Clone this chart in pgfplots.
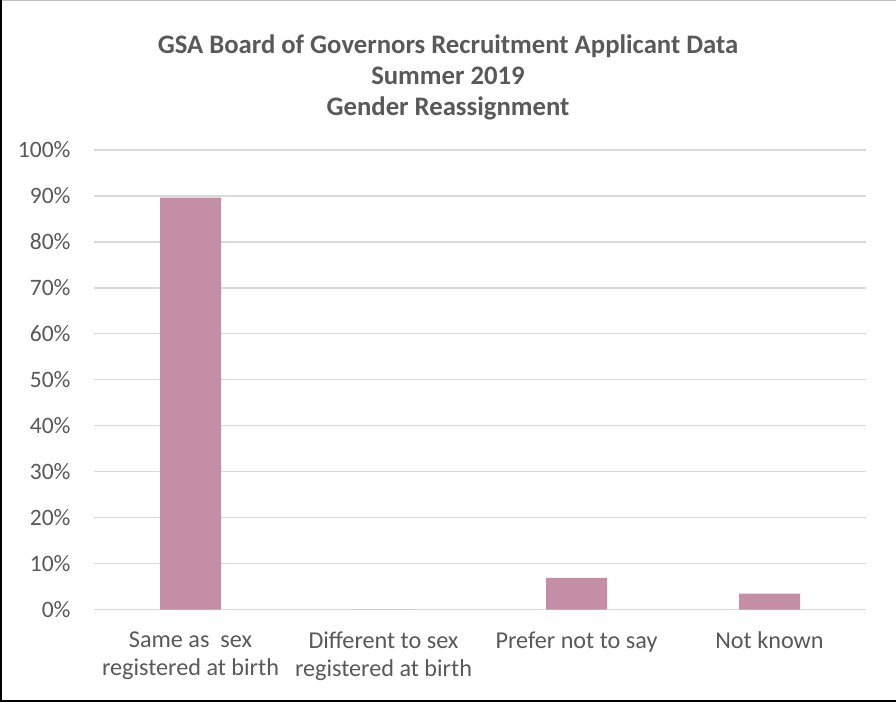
\documentclass[border=0pt]{standalone}
\usepackage{pgfplots}
\pgfplotsset{compat=1.18}
\usepackage{fontspec}
\setmainfont{Carlito}
\definecolor{barcol}{RGB}{196,143,166}
\definecolor{txtcol}{RGB}{89,89,89}
\definecolor{gridcol}{RGB}{217,217,217}
\begin{document}
\begin{tikzpicture}
\useasboundingbox (0,0) rectangle (896pt,702pt);
\fill[white] (0,0) rectangle (896pt,702pt);
\begin{axis}[
  at={(94pt,92.5pt)}, anchor=south west,
  scale only axis, width=772pt, height=459.5pt,
  xmin=-0.5, xmax=3.5, ymin=0, ymax=100,
  ytick={0,10,...,100},
  yticklabel={\pgfmathprintnumber{\tick}\%},
  /pgf/number format/assume math mode=true,
  xtick={0,1,2,3},
  xticklabels={{Same as\ \ sex\\registered at birth},{Different to sex\\registered at birth},{Prefer not to say},{Not known}},
  xticklabel style={align=center, font=\fontsize{24.2}{27.5}\selectfont, text=txtcol, anchor=north, yshift=-19pt},
  yticklabel style={font=\fontsize{23.5}{27}\selectfont, text=txtcol, xshift=-20pt},
  major tick length=0pt,
  axis line style={draw=none},
  ymajorgrids, grid style={gridcol, line width=1.3pt},
  axis on top=false,
  clip=false,
]
\addplot[ybar, bar width=61pt, fill=barcol, draw=none] coordinates {(0,89.66) (1,0) (2,6.90) (3,3.45)};
\end{axis}
\node[anchor=base, text=txtcol, font=\fontsize{26.7}{31}\selectfont\bfseries] at (448pt,648pt) {GSA Board of Governors Recruitment Applicant Data};
\node[anchor=base, text=txtcol, font=\fontsize{26.7}{31}\selectfont\bfseries] at (448pt,617pt) {Summer 2019};
\node[anchor=base, text=txtcol, font=\fontsize{26.7}{31}\selectfont\bfseries] at (448pt,586pt) {Gender Reassignment};
\draw[gray!50, line width=1pt] (0,701.5pt) -- (896pt,701.5pt);
\draw[black, line width=2pt] (1pt,0) -- (1pt,702pt);
\draw[black, line width=2.5pt] (0,1.25pt) -- (896pt,1.25pt);
\end{tikzpicture}
\end{document}
